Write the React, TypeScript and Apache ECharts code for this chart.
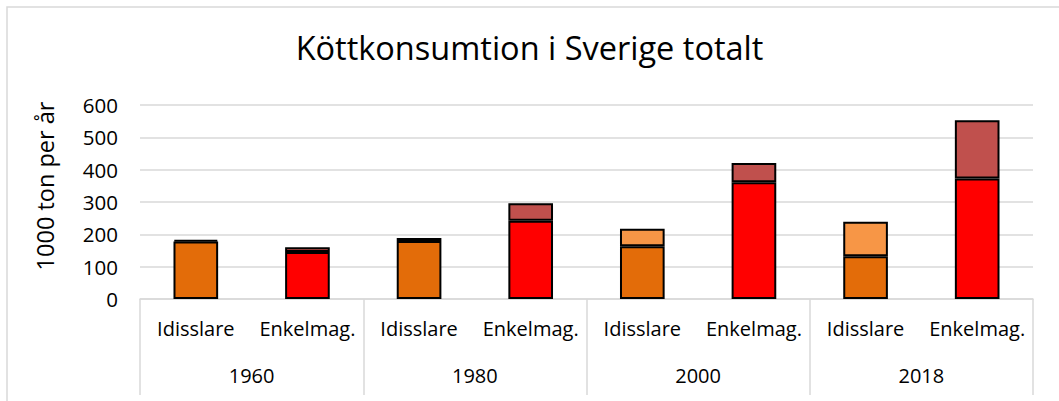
import React, { useEffect, useRef } from "react";
import * as echarts from "echarts";

const years = ["1960", "1980", "2000", "2018"];
const groups = ["Idisslare", "Enkelmag."];
const idisslareBase = [178, 179, 163, 132];
const idisslareTop = [5, 10, 54, 107];
const enkelmagBase = [145, 242, 361, 373];
const enkelmagTop = [15, 54, 60, 180];
const yTicks = [0, 100, 200, 300, 400, 500, 600];
const yAxisTitle = "1000 ton per år";

const FONT = "'Open Sans', sans-serif";

export default function App() {
  const ref = useRef<HTMLDivElement>(null);
  useEffect(() => {
    if (!ref.current) return;
    const chart = echarts.init(ref.current, undefined, { renderer: "svg" });
    const cats: string[] = [];
    years.forEach(() => groups.forEach((g) => cats.push(g)));
    const spread = (arr: number[], slot: number) => {
      const out: (number | string)[] = [];
      arr.forEach((v) => {
        for (let s = 0; s < groups.length; s++) out.push(s === slot ? v : "-");
      });
      return out;
    };
    const mk = (name: string, data: (number | string)[], color: string) => ({
      name,
      type: "bar",
      stack: "total",
      barWidth: "40%",
      data,
      itemStyle: { color, borderColor: "#000", borderWidth: 2 },
    });
    chart.setOption({
      animation: false,
      title: {
        text: "Köttkonsumtion i Sverige totalt",
        left: "center",
        top: 26,
        textStyle: { fontFamily: FONT, fontSize: 32.5, fontWeight: "normal", color: "#000" },
      },
      grid: { left: 140, right: 26, top: 105, bottom: 102 },
      xAxis: [
        {
          type: "category",
          data: cats,
          axisLine: { lineStyle: { color: "#d9d9d9", width: 1.5 } },
          axisTick: { show: false },
          axisLabel: { color: "#000", fontFamily: FONT, fontSize: 20, margin: 19, interval: 0 },
        },
        {
          type: "category",
          data: years,
          position: "bottom",
          offset: 96,
          axisLine: { show: false },
          axisTick: { show: true, inside: true, length: 96, lineStyle: { color: "#d9d9d9", width: 1.5 } },
          axisLabel: { color: "#000", fontFamily: FONT, fontSize: 20, margin: -30 },
        },
      ],
      yAxis: {
        type: "value",
        min: yTicks[0],
        max: yTicks[yTicks.length - 1],
        interval: 100,
        axisLine: { show: false },
        axisTick: { show: false },
        axisLabel: { color: "#000", fontFamily: FONT, fontSize: 20.5, margin: 22 },
        splitLine: { lineStyle: { color: "#d9d9d9", width: 1.5 } },
      },
      graphic: [
        {
          type: "rect",
          shape: { x: 7, y: 7, width: 1100, height: 500 },
          style: { fill: "none", stroke: "#d9d9d9", lineWidth: 1.5 },
          silent: true,
        },
        {
          type: "text",
          x: 45,
          y: 186,
          rotation: Math.PI / 2,
          style: {
            text: yAxisTitle,
            fill: "#000",
            font: `23.5px ${FONT}`,
            textAlign: "center",
            textVerticalAlign: "middle",
          },
          silent: true,
        },
      ],
      series: [
        mk("Idisslare bas", spread(idisslareBase, 0), "#E36C09"),
        mk("Idisslare övrigt", spread(idisslareTop, 0), "#F79646"),
        mk("Enkelmag. bas", spread(enkelmagBase, 1), "#FF0000"),
        mk("Enkelmag. övrigt", spread(enkelmagTop, 1), "#C0504D"),
      ],
    });
    return () => chart.dispose();
  }, []);
  return (
    <div
      ref={ref}
      style={{ position: "fixed", left: 0, top: 0, width: 1059, height: 401, background: "#fff" }}
    />
  );
}
